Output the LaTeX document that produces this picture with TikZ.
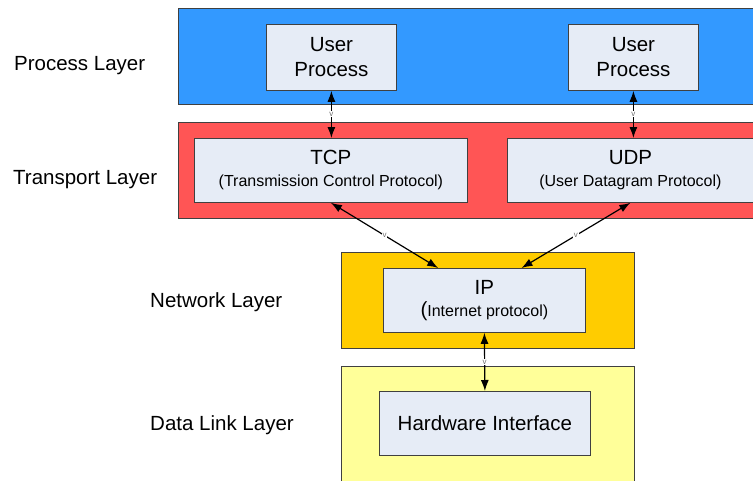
\documentclass[tikz,border=0pt]{standalone}
\usepackage{fontspec}
\setmainfont{Liberation Sans}
\usetikzlibrary{arrows.meta,calc}

\definecolor{procblue}{HTML}{3399FF}
\definecolor{transred}{HTML}{FF5555}
\definecolor{netorange}{HTML}{FFCC00}
\definecolor{linkyellow}{HTML}{FFFF99}
\definecolor{boxfill}{HTML}{E6ECF6}
\definecolor{edgegray}{HTML}{404040}
\definecolor{markgray}{HTML}{707070}

\tikzset{
  layer/.style={draw=edgegray, line width=1.2pt, anchor=north west, inner sep=0pt},
  protobox/.style={draw=edgegray, line width=0.8pt, fill=boxfill, anchor=north west,
    inner sep=0pt, align=center, font=\fontsize{20.5}{25}\selectfont},
  layerlabel/.style={anchor=base west, inner sep=0pt, font=\fontsize{20.5}{24}\selectfont},
  conn/.style={line width=1.2pt, {Latex[length=11pt,width=8pt]}-{Latex[length=11pt,width=8pt]}},
  vmark/.style={midway, fill=white, inner sep=0.8pt, text=markgray, font=\fontsize{8}{8}\selectfont}
}

\begin{document}
\begin{tikzpicture}[x=1pt, y=-1pt]
  \useasboundingbox (0,0) rectangle (753,480);
  \clip (0,0) rectangle (753,480);

  % layer bands
  \node[layer, fill=procblue, minimum width=590pt, minimum height=96pt] (proclayer) at (178,8) {};
  \node[layer, fill=transred, minimum width=590pt, minimum height=96pt] (translayer) at (178,122) {};
  \node[layer, fill=netorange, minimum width=293pt, minimum height=96pt] (netlayer) at (341,252) {};
  \node[layer, fill=linkyellow, minimum width=293pt, minimum height=130pt] (linklayer) at (341,366) {};

  % layer names
  \node[layerlabel] (lblproc) at (14,70) {Process Layer};
  \node[layerlabel] (lbltrans) at (13,184) {Transport Layer};
  \node[layerlabel] (lblnet) at (150,307) {Network Layer};
  \node[layerlabel] (lbllink) at (150,430) {Data Link Layer};

  % protocol boxes
  \node[protobox, minimum width=130pt, minimum height=66pt] (up1) at (266,24) {User\\Process};
  \node[protobox, minimum width=130pt, minimum height=66pt] (up2) at (568,24) {User\\Process};
  \node[protobox, minimum width=273pt, minimum height=64pt] (tcp) at (194,138)
    {TCP\\[-3pt]{\fontsize{16}{18}\selectfont (Transmission Control Protocol)}};
  \node[protobox, minimum width=246pt, minimum height=64pt] (udp) at (507,138)
    {UDP\\[-3pt]{\fontsize{16}{18}\selectfont (User Datagram Protocol)}};
  \node[protobox, minimum width=202pt, minimum height=64pt] (ip) at (383,268)
    {IP\\[-3pt]({\fontsize{16}{18}\selectfont Internet protocol)}};
  \node[protobox, minimum width=211pt, minimum height=64pt] (hw) at (379,391) {Hardware Interface};

  % connectors
  \draw[conn] (up1.south) -- (up1.south |- tcp.north) node[vmark] {v};
  \draw[conn] (up2.south) -- (up2.south |- udp.north) node[vmark] {v};
  \draw[conn] (tcp.south) -- ($(ip.north west)!0.272!(ip.north east)$) node[vmark] {v};
  \draw[conn] (udp.south) -- ($(ip.north west)!0.683!(ip.north east)$) node[vmark] {v};
  \draw[conn] (ip.south) -- (hw.north) node[vmark] {v};
\end{tikzpicture}
\end{document}
